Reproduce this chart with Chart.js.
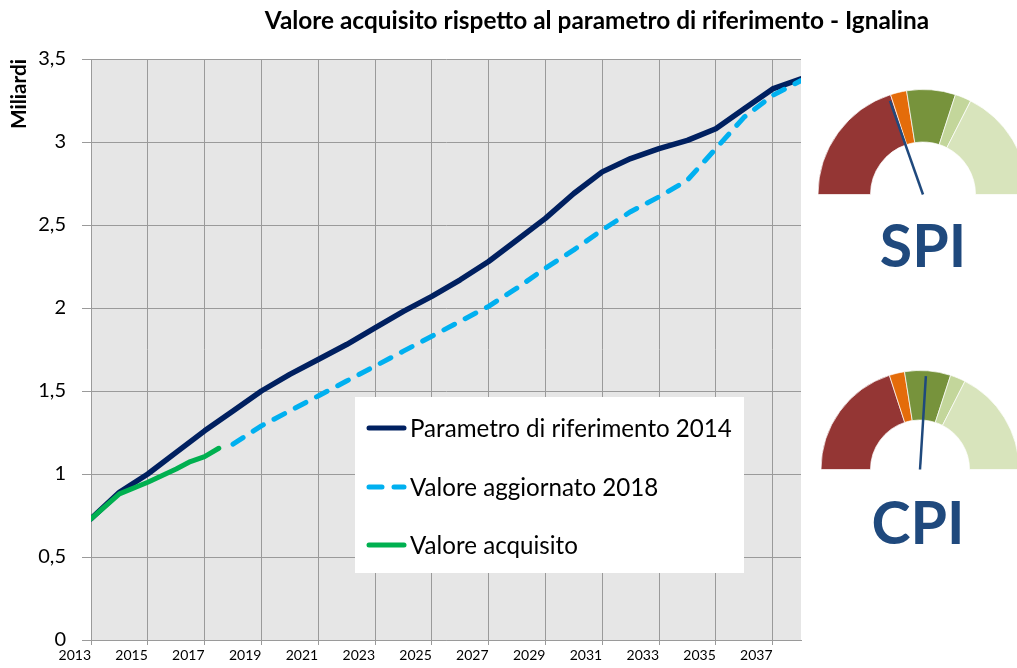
<!DOCTYPE html>
<html>
<head>
<meta charset="utf-8">
<script src="https://cdn.jsdelivr.net/npm/chart.js@4.4.1/dist/chart.umd.min.js"></script>
<style>
html,body{margin:0;padding:0;background:#fff;overflow:hidden;}
#wrap{position:relative;width:1017px;height:668px;overflow:hidden;}
#wrap canvas{position:absolute;}
.gl{position:absolute;font-family:Lato,sans-serif;font-weight:bold;color:#1F497D;line-height:1;white-space:nowrap;transform:translateX(-50%);font-size:59px;}
</style>
</head>
<body>
<div id="wrap">
  <canvas id="main" width="1017" height="668" style="left:0;top:0"></canvas>
  <canvas id="spi" width="212" height="106" style="left:817px;top:89px"></canvas>
  <canvas id="cpi" width="200" height="100" style="left:820px;top:370px"></canvas>
  <div class="gl" id="spiLabel" style="left:923px;top:215px">SPI</div>
  <div class="gl" id="cpiLabel" style="left:918px;top:492px">CPI</div>
</div>
<script>
// ---- data ----
const chartTitle = 'Valore acquisito rispetto al parametro di riferimento - Ignalina';
const yAxisTitle = 'Miliardi';
const seriesNames = ['Parametro di riferimento 2014', 'Valore aggiornato 2018', 'Valore acquisito'];

const refYears = [2013,2014,2015,2016,2017,2018,2019,2020,2021,2022,2023,2024,2025,2026,2027,2028,2029,2030,2031,2032,2033,2034,2035,2036,2037,2038];
const refValues = [0.73,0.89,1.00,1.13,1.26,1.38,1.50,1.60,1.69,1.78,1.88,1.98,2.07,2.17,2.28,2.41,2.54,2.69,2.82,2.90,2.96,3.01,3.08,3.20,3.32,3.38];

const updYears = [2018,2019,2020,2021,2022,2023,2024,2025,2026,2027,2028,2029,2030,2031,2032,2033,2034,2035,2036,2037,2038];
const updValues = [1.18,1.29,1.38,1.47,1.56,1.65,1.74,1.83,1.92,2.01,2.12,2.24,2.35,2.47,2.58,2.67,2.77,2.96,3.15,3.28,3.37];

const evYears = [2013,2014,2015,2016,2016.5,2017,2017.5];
const evValues = [0.73,0.88,0.95,1.03,1.075,1.105,1.155];

const xTickYears = [2013,2015,2017,2019,2021,2023,2025,2027,2029,2031,2033,2035,2037];
const yMin = 0, yMax = 3.5, yStep = 0.5;

const gaugeBands = [40,5,15,5,35];
const spiNeedle = 0.392;
const cpiNeedle = 0.52;

// ---- styling ----
const FONT = 'Lato';
const seriesColors = ['#002060','#00B0F0','#00B050'];
const bandColors = ['#943634','#E46C0A','#77933C','#C3D69B','#D8E4BC'];
const gridColor = '#9a9a9a';

function fitSize(text, target, weight){
  const c = document.createElement('canvas').getContext('2d');
  c.font = weight + ' 100px ' + FONT;
  return 100 * target / c.measureText(text).width;
}
const titleSize = fitSize(chartTitle, 665, 'bold');
const legendSize = fitSize(seriesNames[0], 322, 'normal');
const yTitleSize = fitSize(yAxisTitle, 70, 'bold');

const toXY = (xs, ys) => xs.map((x,i)=>({x:x, y:ys[i]}));

const bgPlugin = {
  id:'bg',
  beforeDraw(chart){
    const {ctx, chartArea:a} = chart;
    ctx.save();
    ctx.fillStyle = '#E6E6E6';
    ctx.fillRect(a.left, a.top, a.right-a.left, a.bottom-a.top);
    ctx.restore();
  }
};

const titlePlugin = {
  id:'ttl',
  afterDraw(chart){
    const ctx = chart.ctx;
    ctx.save();
    ctx.font = 'bold ' + titleSize + 'px ' + FONT;
    ctx.fillStyle = '#000';
    ctx.textAlign = 'center';
    ctx.textBaseline = 'alphabetic';
    ctx.fillText(chartTitle, 597, 29);
    ctx.restore();
  }
};

const legendPlugin = {
  id:'lgd',
  beforeDatasetsDraw(chart){
    const ctx = chart.ctx;
    const box = {x:355, y:397, w:389, h:176};
    const rows = [428, 487, 545];
    ctx.save();
    ctx.fillStyle = '#fff';
    ctx.fillRect(box.x, box.y, box.w, box.h);
    ctx.font = legendSize + 'px ' + FONT;
    ctx.textBaseline = 'alphabetic';
    ctx.textAlign = 'left';
    chart.data.datasets.forEach((ds, i) => {
      const y = rows[i];
      ctx.strokeStyle = ds.borderColor;
      ctx.lineWidth = 5;
      ctx.lineCap = 'round';
      ctx.setLineDash(ds.borderDash ? [13,12] : []);
      ctx.beginPath();
      ctx.moveTo(369, y);
      ctx.lineTo(404, y);
      ctx.stroke();
      ctx.setLineDash([]);
      ctx.fillStyle = '#000';
      ctx.fillText(ds.label, 410, y + 8.5);
    });
    ctx.restore();
  }
};

new Chart(document.getElementById('main'), {
  type:'line',
  data:{
    datasets:[
      {label:seriesNames[0], data:toXY(refYears, refValues), borderColor:seriesColors[0], borderWidth:5.5, pointRadius:0, tension:0, borderJoinStyle:'round', borderCapStyle:'round', order:3},
      {label:seriesNames[1], data:toXY(updYears, updValues), borderColor:seriesColors[1], borderWidth:5, pointRadius:0, tension:0, borderDash:[12,12], borderJoinStyle:'round', borderCapStyle:'round', order:2},
      {label:seriesNames[2], data:toXY(evYears, evValues), borderColor:seriesColors[2], borderWidth:5, pointRadius:0, tension:0, borderJoinStyle:'round', borderCapStyle:'round', order:1}
    ]
  },
  options:{
    responsive:false, animation:false, devicePixelRatio:1, events:[],
    layout:{padding:{left:0, top:59, right:216, bottom:0}},
    plugins:{legend:{display:false}, tooltip:{enabled:false}, title:{display:false}},
    scales:{
      x:{
        type:'linear', min:2013, max:2038,
        afterBuildTicks: s => { s.ticks = xTickYears.map(v => ({value:v})); },
        afterFit: s => { s.height = 28; },
        grid:{color:gridColor, lineWidth:1, tickLength:5, drawTicks:true},
        border:{color:gridColor, width:1},
        ticks:{align:'end', padding:2, color:'#000', font:{family:FONT, size:14}, maxRotation:0, autoSkip:false, callback: v => String(v)}
      },
      y:{
        min:yMin, max:yMax,
        afterFit: s => { s.width = 91; },
        grid:{color:gridColor, lineWidth:1, tickLength:9, drawTicks:true},
        border:{color:gridColor, width:1},
        ticks:{stepSize:yStep, padding:16, color:'#000', font:{family:FONT, size:20}, callback: v => String(v).replace('.', ',')},
        title:{display:true, text:yAxisTitle, align:'end', color:'#000', font:{family:FONT, weight:'bold', size:yTitleSize}, padding:{top:7, bottom:0}}
      }
    }
  },
  plugins:[bgPlugin, legendPlugin, titlePlugin]
});

function gauge(id, needle){
  new Chart(document.getElementById(id), {
    type:'doughnut',
    data:{labels:['a','b','c','d','e'], datasets:[{data:gaugeBands, backgroundColor:bandColors, borderColor:'rgba(255,255,255,0.7)', borderWidth:1}]},
    options:{
      responsive:false, animation:false, devicePixelRatio:1, events:[],
      rotation:-90, circumference:180, cutout:'50%',
      layout:{padding:0},
      plugins:{legend:{display:false}, tooltip:{enabled:false}}
    },
    plugins:[{
      id:'needle',
      afterDatasetsDraw(chart){
        const arc = chart.getDatasetMeta(0).data[0];
        const cx = arc.x, cy = arc.y, r = arc.outerRadius * 0.945;
        const a = Math.PI + needle * Math.PI;
        const ctx = chart.ctx;
        ctx.save();
        ctx.strokeStyle = '#1F497D';
        ctx.lineWidth = 2.5;
        ctx.beginPath();
        ctx.moveTo(cx, cy);
        ctx.lineTo(cx + r*Math.cos(a), cy + r*Math.sin(a));
        ctx.stroke();
        ctx.restore();
      }
    }]
  });
}
gauge('spi', spiNeedle);
gauge('cpi', cpiNeedle);
</script>
</body>
</html>
